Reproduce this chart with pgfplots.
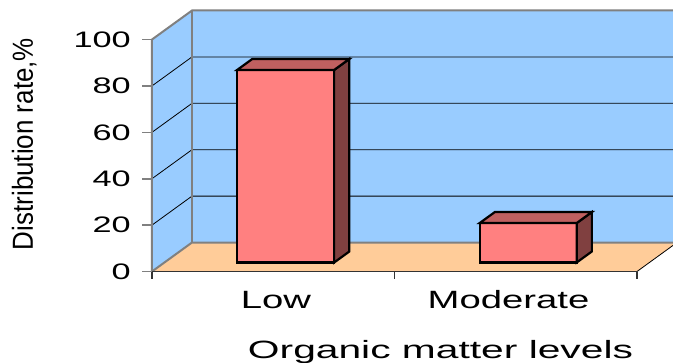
\documentclass[border=0pt]{standalone}
\usepackage{pgfplots}
\pgfplotsset{compat=1.18}
\usepackage{graphicx}
\usepackage{fontspec}
\setmainfont{Liberation Sans}

\definecolor{wall}{HTML}{99CCFF}
\definecolor{floorc}{HTML}{FFCC99}
\definecolor{barfront}{HTML}{FF8080}
\definecolor{barside}{HTML}{804040}
\definecolor{bartop}{HTML}{C06060}
\definecolor{edge}{HTML}{808080}

\begin{document}
\begin{tikzpicture}
\useasboundingbox (-152pt,-90.5pt) rectangle (521pt,271.5pt);
\clip (-152pt,-90.5pt) rectangle (521pt,271.5pt);
\begin{axis}[
  at={(0pt,0pt)}, anchor=origin,
  x={(242.5pt,0pt)}, y={(40pt,29pt)}, z={(0pt,2.32pt)},
  xmin=0, xmax=2, ymin=0, ymax=1, zmin=0, zmax=100,
  hide axis, clip=false,
]
% side wall, back wall and floor
\fill[wall] (axis cs:0,0,0) -- (axis cs:0,1,0) -- (axis cs:0,1,100) -- (axis cs:0,0,100) -- cycle;
\fill[wall] (axis cs:0,1,0) -- (axis cs:2.1,1,0) -- (axis cs:2.1,1,100) -- (axis cs:0,1,100) -- cycle;
\fill[floorc] (axis cs:0,0,0) -- (axis cs:2,0,0) -- (axis cs:2,1,0) -- (axis cs:0,1,0) -- cycle;
% grid lines
\pgfplotsinvokeforeach{20,40,60,80}{
  \draw[black, line width=0.8pt] (axis cs:0,0,#1) -- (axis cs:0,1,#1) -- (axis cs:2.1,1,#1);
}
% wall edges
\draw[edge, line width=2pt] (axis cs:0,0,0) -- (axis cs:0,0,100) -- (axis cs:0,1,100) -- (axis cs:2.1,1,100);
\draw[edge, line width=2pt] (axis cs:0,0,0) -- (axis cs:0,1,0) -- (axis cs:2.1,1,0);
\draw[edge, line width=2pt] (axis cs:0,1,0) -- (axis cs:0,1,100);
\draw[black, line width=0.8pt] (axis cs:2,0,0) -- (axis cs:2,1,0);
\draw[black!80, line width=1.6pt] (axis cs:0,0,0) -- (axis cs:2,0,0);
% ticks
\pgfplotsinvokeforeach{0,20,40,60,80,100}{
  \draw[edge, line width=1.6pt] (axis cs:0,0,#1) -- ++(-10pt,0pt);
  \node[anchor=east, inner sep=0pt, xshift=-21pt, font=\fontsize{22.4}{24}\selectfont]
    at (axis cs:0,0,#1) {\scalebox{1.53}[1]{#1}};
}
\pgfplotsinvokeforeach{0,1,2}{
  \draw[black!80, line width=1.4pt] (axis cs:#1,0,0) -- ++(0pt,-7pt);
}

% Low: 83 %
\addplot3[fill=barfront, draw=black, line width=2.2pt] coordinates
  {(0.3,0.31,0) (0.7,0.31,0) (0.7,0.31,83) (0.3,0.31,83)} -- cycle;
\addplot3[fill=barside, draw=black, line width=2.2pt] coordinates
  {(0.7,0.31,0) (0.7,0.69,0) (0.7,0.69,83) (0.7,0.31,83)} -- cycle;
\addplot3[fill=bartop, draw=black, line width=2.2pt] coordinates
  {(0.3,0.31,83) (0.7,0.31,83) (0.7,0.69,83) (0.3,0.69,83)} -- cycle;
% Moderate: 17 %
\addplot3[fill=barfront, draw=black, line width=2.2pt] coordinates
  {(1.3,0.31,0) (1.7,0.31,0) (1.7,0.31,17) (1.3,0.31,17)} -- cycle;
\addplot3[fill=barside, draw=black, line width=2.2pt] coordinates
  {(1.7,0.31,0) (1.7,0.69,0) (1.7,0.69,17) (1.7,0.31,17)} -- cycle;
\addplot3[fill=bartop, draw=black, line width=2.2pt] coordinates
  {(1.3,0.31,17) (1.7,0.31,17) (1.7,0.69,17) (1.3,0.69,17)} -- cycle;

% category names and axis titles
\node[anchor=base, inner sep=0pt, xshift=2.75pt, yshift=-36.8pt, font=\fontsize{25}{27}\selectfont]
  at (axis cs:0.5,0,0) {\scalebox{1.53}[1]{Low}};
\node[anchor=base, inner sep=0pt, xshift=-7.25pt, yshift=-36.8pt, font=\fontsize{25}{27}\selectfont]
  at (axis cs:1.5,0,0) {\scalebox{1.53}[1]{Moderate}};
\node[anchor=base, inner sep=0pt, xshift=288.5pt, yshift=-86.5pt, font=\fontsize{25}{27}\selectfont]
  at (axis cs:0,0,0) {\resizebox{385pt}{\height}{Organic matter levels}};
\node[anchor=base, inner sep=0pt, rotate=90, xshift=127.5pt, yshift=119pt, font=\fontsize{29}{31}\selectfont]
  at (axis cs:0,0,0) {\resizebox{212pt}{\height}{Distribution rate,\%}};
\end{axis}
\end{tikzpicture}
\end{document}
